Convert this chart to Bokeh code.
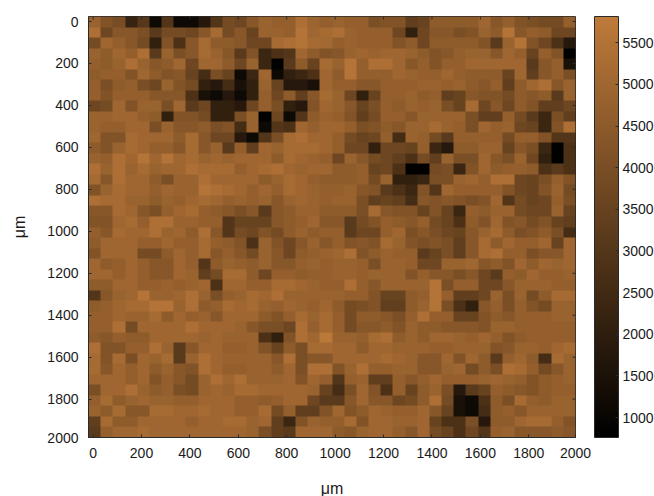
import numpy as np
from bokeh.plotting import figure
from bokeh.models import LinearColorMapper, ColorBar, FixedTicker
from bokeh.embed import file_html
from bokeh.resources import INLINE

left = [
[44,36,33,15,23,8,22,8,8,12,22,32,30,38,44,42,42,50,45,42],
[50,30,38,38,34,24,32,32,30,38,48,32,38,28,44,44,42,52,46,48],
[32,46,42,38,32,14,36,20,38,48,40,40,38,30,30,48,50,52,48,47],
[44,40,46,42,50,24,44,34,38,48,44,38,24,36,16,20,22,46,40,36],
[42,40,44,50,44,38,40,46,30,46,46,40,30,44,16,6,24,40,28,48],
[40,42,42,36,46,40,36,38,28,18,34,28,8,16,46,8,14,16,20,46],
[42,34,40,42,34,30,44,36,32,14,12,18,10,14,44,28,12,12,10,46],
[42,36,42,42,42,38,38,38,20,10,8,12,8,14,42,30,40,26,38,48],
[30,32,46,36,44,44,34,46,24,30,14,14,12,30,42,34,14,12,36,46],
[44,44,46,46,42,40,14,36,36,32,14,14,34,44,6,30,8,22,40,44],
[44,42,42,46,46,34,44,38,38,40,34,36,18,44,8,22,20,46,42,46],
[46,36,36,48,46,46,46,40,48,38,30,30,12,8,22,34,48,50,46,46],
[40,36,44,48,46,42,42,38,48,38,44,24,42,26,46,44,48,48,48,46],
[44,42,50,46,52,46,52,46,48,44,46,44,46,46,46,40,48,46,44,42],
[50,44,50,44,48,44,46,46,50,48,48,48,42,46,48,50,46,44,46,46],
[48,38,50,46,46,40,34,44,44,50,46,46,46,46,40,44,48,46,42,40],
[36,44,48,46,46,42,46,44,44,52,50,48,46,42,46,42,48,46,44,42],
[50,48,48,44,44,40,44,42,46,48,46,42,44,42,44,38,44,46,44,42],
[38,38,48,46,38,34,42,46,48,42,40,38,34,38,24,38,40,44,44,40],
[36,36,46,48,42,50,50,44,44,42,42,22,28,28,28,38,40,42,46,38],
[42,38,48,46,46,50,44,46,40,50,38,22,32,30,36,32,40,44,40,42],
[40,46,46,46,42,42,46,42,42,48,42,40,36,20,44,36,30,38,44,38],
[36,46,46,46,32,32,40,46,42,48,38,42,38,32,44,38,30,40,42,44],
[46,40,42,46,42,38,38,46,42,22,40,44,42,40,44,38,38,42,44,42],
[46,46,42,46,42,38,38,46,44,26,32,48,48,40,30,42,42,40,42,42],
[40,40,46,46,42,42,44,42,44,46,20,46,46,42,42,48,48,46,44,42],
[22,38,44,46,52,44,44,46,50,44,34,42,44,48,46,50,44,44,44,44],
[40,42,46,48,48,52,52,44,50,40,42,48,46,48,44,42,46,44,42,46],
[42,42,46,44,44,48,40,46,42,44,38,46,46,46,40,36,42,48,44,48],
[42,42,50,32,46,46,46,46,50,46,46,46,44,38,34,34,30,50,42,48],
[40,38,42,40,40,46,46,46,46,44,46,44,44,44,20,14,36,50,46,54],
[50,36,36,42,42,50,44,24,38,46,46,42,42,44,36,28,40,34,48,48],
[48,36,48,34,46,44,48,24,44,50,46,44,44,44,44,38,50,34,38,38],
[48,38,46,42,46,40,44,38,36,50,46,42,42,44,44,40,46,34,50,50],
[46,46,46,42,46,36,42,38,32,44,50,46,50,44,44,44,46,36,46,42],
[34,46,46,50,44,40,42,34,32,44,46,44,48,48,46,46,46,46,44,28],
[42,48,40,44,46,44,44,42,42,46,46,46,42,42,40,42,46,46,30,24],
[44,40,48,38,38,48,48,46,46,48,46,46,42,42,48,32,42,26,26,36],
[26,48,40,40,46,46,46,46,42,46,46,48,48,44,46,26,16,36,44,42],
[24,42,46,46,48,46,46,46,46,46,46,46,46,44,34,26,24,46,46,46],
]
right = [
[44,42,42,34,36,36,26,28,40,40,40,40,46,38,42,36,34,32,32,42],
[50,44,42,42,42,30,14,30,38,38,34,36,44,40,52,38,42,40,30,30],
[42,44,42,42,42,36,40,30,40,40,40,40,36,24,44,52,36,30,20,12],
[38,44,46,44,46,46,44,40,36,38,42,44,44,38,46,42,28,42,36,6],
[44,52,42,50,50,46,38,42,36,42,42,46,46,46,46,46,24,38,42,10],
[40,52,42,42,42,46,44,42,42,46,42,40,40,40,28,46,26,38,42,34],
[42,42,38,38,42,42,42,44,44,42,44,40,38,42,26,40,46,50,38,44],
[44,30,14,28,42,42,44,40,42,26,28,38,36,36,32,40,38,40,24,44],
[44,38,28,34,42,40,44,42,44,34,28,48,30,38,30,40,36,26,26,30],
[42,36,26,32,42,42,38,44,44,44,44,34,26,26,42,32,24,16,34,26],
[46,42,34,36,40,38,44,44,48,44,42,34,46,42,44,30,28,16,36,50],
[42,32,28,30,42,18,44,42,32,24,42,42,42,42,32,42,42,36,22,22],
[42,30,30,14,30,30,28,42,16,12,40,40,44,44,28,38,34,16,6,20],
[30,44,38,32,30,26,20,32,26,44,34,34,46,38,34,44,30,14,6,20],
[40,40,42,28,30,20,6,6,32,34,16,36,46,40,42,42,40,20,24,20],
[40,40,42,32,44,14,14,16,34,34,44,46,42,50,50,30,28,34,42,36],
[42,44,38,36,24,20,16,36,22,46,42,42,42,42,36,30,28,36,44,32],
[44,44,34,26,28,26,18,38,36,38,36,34,36,46,22,32,28,30,42,34],
[40,40,34,48,38,36,36,28,36,28,16,42,40,44,44,32,30,30,44,28],
[38,24,32,36,42,40,38,42,32,28,20,40,36,46,36,38,32,36,28,26],
[42,24,30,30,42,46,34,38,34,30,28,38,44,48,40,34,36,40,34,18],
[42,36,38,36,48,44,36,34,36,34,26,38,48,40,46,42,42,46,28,46],
[46,50,36,40,44,42,42,24,28,34,26,38,48,50,42,42,34,38,38,46],
[44,44,42,34,44,44,42,30,30,44,44,46,38,40,36,46,40,46,44,46],
[44,44,42,44,44,44,36,42,38,38,34,38,30,24,42,40,46,42,42,44],
[42,50,42,38,44,44,44,44,52,34,42,42,30,30,38,44,44,44,42,42],
[44,42,42,36,28,28,40,42,52,42,26,26,30,44,34,44,32,40,48,48],
[40,32,34,36,26,26,40,44,52,34,20,14,38,42,34,42,36,32,44,44],
[42,32,40,40,38,34,42,50,42,42,28,28,36,40,38,42,42,42,44,44],
[42,32,38,38,40,36,44,40,40,38,38,38,36,44,44,42,42,42,42,42],
[44,44,42,48,50,40,44,40,46,46,44,42,46,42,36,40,42,42,42,42],
[46,46,40,46,46,44,44,44,42,42,44,44,44,36,38,44,44,42,46,48],
[46,46,46,46,48,46,44,38,38,46,36,46,40,24,42,46,40,18,48,44],
[36,44,50,42,42,44,44,38,38,44,46,32,40,34,50,48,42,32,38,44],
[22,42,44,26,26,42,38,42,46,42,42,42,44,46,44,42,36,40,42,44],
[18,34,46,36,20,42,28,40,44,34,12,24,28,42,40,38,36,40,42,42],
[24,38,46,38,38,30,32,40,50,32,10,8,20,40,34,48,42,40,44,44],
[46,36,40,46,44,42,42,46,38,28,10,8,18,40,42,38,44,44,44,44],
[42,48,36,46,46,44,44,46,28,20,20,34,12,40,40,46,48,48,42,36],
[40,38,44,46,46,42,38,46,32,28,20,30,22,42,44,38,38,38,40,38],
]
x_tick_values = [0, 200, 400, 600, 800, 1000, 1200, 1400, 1600, 1800]
y_tick_values = [0, 200, 400, 600, 800, 1000, 1200, 1400, 1600, 1800]
cbar_ticks = [1000, 1500, 2000, 2500, 3000, 3500, 4000, 4500, 5000, 5500]
last_label = "2000"
# shades read by eye -> values on the colour bar
read_shade = [6, 14, 20, 30, 46, 54]
bar_value = [800, 2100, 2800, 3700, 5000, 5700]

x0, x1 = -19, 1993
y0, y1 = -24, 1983
zmin, zmax = 760, 5815
z = np.interp(np.array([l + r for l, r in zip(left, right)], dtype=float), read_shade, bar_value)

palette = []
for k in range(256):
    t = k / 255
    palette.append("#%02x%02x%02x" % (round(190 * t), round(122 * t), round(58 * t)))
mapper = LinearColorMapper(palette=palette, low=zmin, high=zmax)

FONT = "Liberation Sans"
INK = "#2a2a2a"
p = figure(width=654, height=496, output_backend="svg", toolbar_location=None,
           x_range=(x0, x1), y_range=(y1, y0), frame_width=487, frame_height=421,
           min_border_left=88, min_border_top=16, min_border_right=0, min_border_bottom=59)
p.grid.visible = False
p.outline_line_color = INK
p.image(image=[z], x=x0, y=y0, dw=x1 - x0, dh=y1 - y0, color_mapper=mapper)

def style(ax, ticks):
    ax.ticker = FixedTicker(ticks=ticks)
    ax.major_tick_in = 3
    ax.major_tick_out = 0
    ax.minor_tick_line_color = None
    ax.axis_line_color = INK
    ax.major_tick_line_color = INK
    ax.major_label_text_font = FONT
    ax.major_label_text_color = "#1a1a1a"
    ax.major_label_text_font_size = "14px"
    ax.major_label_standoff = 10

style(p.xaxis[0], x_tick_values + [x1])
style(p.yaxis[0], y_tick_values + [y1])
p.xaxis[0].major_label_overrides = {x1: last_label}
p.yaxis[0].major_label_overrides = {y1: last_label}

ty = 3 * (y1 - y0) / 421
tx = 3 * (x1 - x0) / 487
p.segment(x_tick_values, [y0] * 10, x_tick_values, [y0 + ty] * 10, line_color=INK, line_width=1)
p.segment([x1] * 10, y_tick_values, [x1 - tx] * 10, y_tick_values, line_color=INK, line_width=1)

cb = ColorBar(color_mapper=mapper, width=24, height=421, ticker=FixedTicker(ticks=cbar_ticks),
              padding=0, margin=0, major_tick_in=3, major_tick_out=0,
              major_tick_line_color=INK, minor_tick_line_color=None,
              bar_line_color=INK, major_label_text_font=FONT,
              major_label_text_font_size="14px", major_label_text_color="#1a1a1a",
              label_standoff=4, location=(19, 0))
p.add_layout(cb, "right")

p.xaxis[0].axis_label = "μm"
p.yaxis[0].axis_label = "μm"
for ax in (p.xaxis[0], p.yaxis[0]):
    ax.axis_label_text_font = FONT
    ax.axis_label_text_font_size = "16px"
    ax.axis_label_text_font_style = "normal"
    ax.axis_label_text_color = "#1a1a1a"
p.xaxis[0].axis_label_standoff = 19
p.yaxis[0].axis_label_standoff = 16

open("out.html", "w").write(file_html(p, INLINE))
